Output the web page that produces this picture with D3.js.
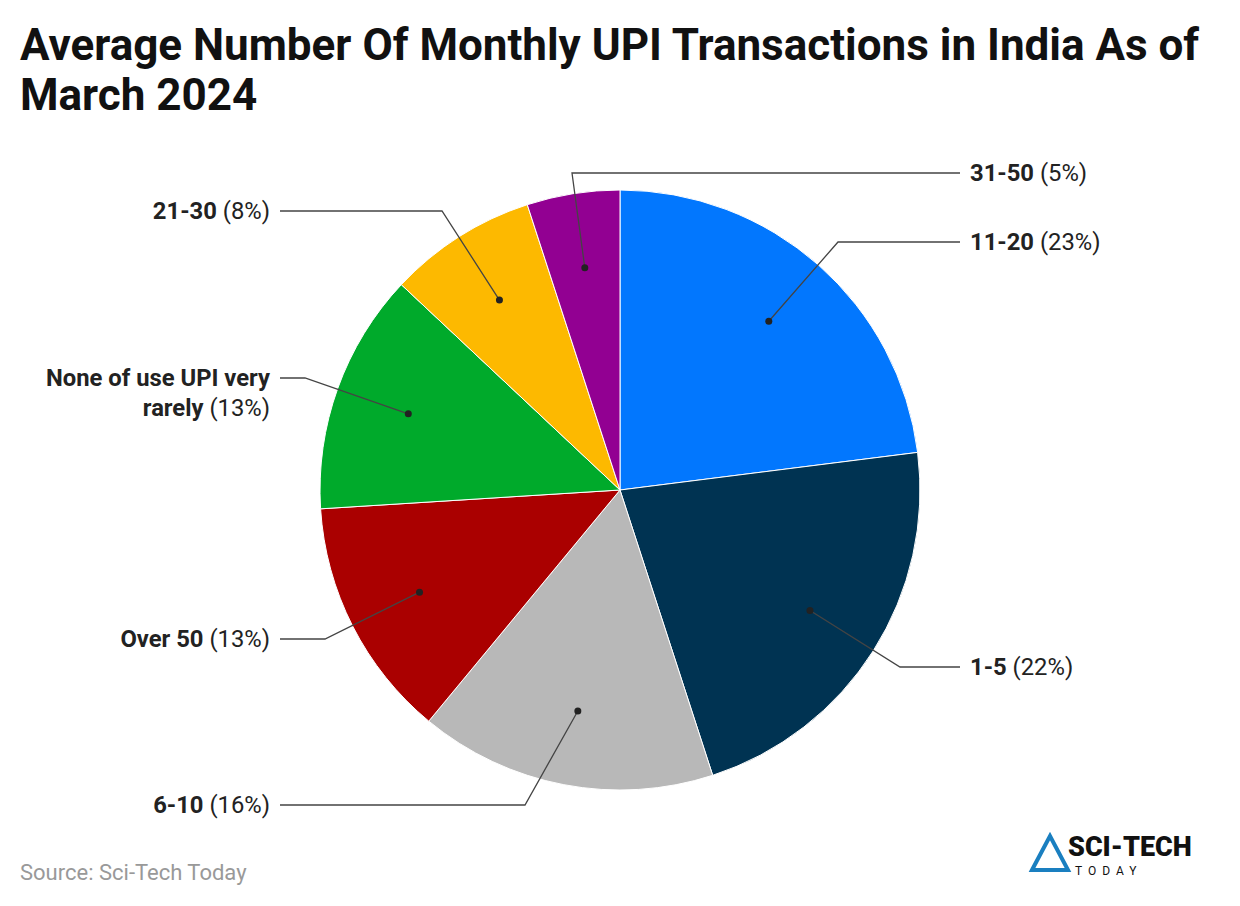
<!DOCTYPE html>
<html><head><meta charset="utf-8">
<script src="https://cdn.jsdelivr.net/npm/d3@7"></script>
<style>body{margin:0;background:#fff;font-family:Roboto,sans-serif}</style>
</head><body><svg id="c" width="1240" height="906"></svg>
<script>
const categories=["11-20","1-5","6-10","Over 50","None of use UPI very rarely","21-30","31-50"];
const values=[23,22,16,13,13,8,5];
const colors=["#0277fe","#003352","#b8b8b8","#aa0000","#00aa2b","#fdb900","#920092"];
// label layout: elbow x, elbow y, side
const labelX=[838,900,525,325,305,442,572];
const labelY=[242,667,805,639,378,211,173];
const labelSide=[1,1,-1,-1,-1,-1,1];
const svg=d3.select("#c");
svg.append("text").attr("x",20).attr("y",60).attr("font-size",44).attr("font-weight",700).attr("fill","#111").text("Average Number Of Monthly UPI Transactions in India As of");
svg.append("text").attr("x",20).attr("y",110).attr("font-size",44).attr("font-weight",700).attr("fill","#111").text("March 2024");
const cx=620,cy=490,R=300;
const pie=d3.pie().sort(null).value(d=>d)(values);
const arc=d3.arc().innerRadius(0).outerRadius(R);
const g=svg.append("g").attr("transform",`translate(${cx},${cy})`);
g.selectAll("path").data(pie).join("path").attr("d",arc).attr("fill",(d,i)=>colors[i]).attr("stroke","#fff").attr("stroke-width",1);
const inner=d3.arc().innerRadius(R*0.75).outerRadius(R*0.75);
const FS=23.8;
pie.forEach((d,i)=>{
  const [px,py]=inner.centroid(d);
  const x=cx+px,y=cy+py;
  const ex=labelX[i], ey=labelY[i], side=labelSide[i];
  const endX=side>0?960:280;
  svg.append("polyline").attr("points",`${x},${y} ${ex},${ey} ${endX},${ey}`).attr("fill","none").attr("stroke","#444").attr("stroke-width",1.3);
  svg.append("circle").attr("cx",x).attr("cy",y).attr("r",3.5).attr("fill","#222");
  const tx=side>0?970:270, anchor=side>0?"start":"end";
  const pct=` (${values[i]}%)`;
  if(i==4){
    const t=svg.append("text").attr("x",tx).attr("y",ey+8).attr("text-anchor",anchor).attr("font-size",FS).attr("fill","#222");
    t.append("tspan").attr("font-weight",700).text("None of use UPI very");
    const t2=svg.append("text").attr("x",tx).attr("y",ey+38).attr("text-anchor",anchor).attr("font-size",FS).attr("fill","#222");
    t2.append("tspan").attr("font-weight",700).text("rarely");t2.append("tspan").text(pct);
  } else {
    const t=svg.append("text").attr("x",tx).attr("y",ey+8).attr("text-anchor",anchor).attr("font-size",FS).attr("fill","#222");
    t.append("tspan").attr("font-weight",700).text(categories[i]);t.append("tspan").text(pct);
  }
});
svg.append("text").attr("x",20).attr("y",880).attr("font-size",22).attr("fill","#999").text("Source: Sci-Tech Today");
const lg=svg.append("g");
lg.append("path").attr("d","M1032,870 L1050,836 L1068,870 Z").attr("fill","none").attr("stroke","#1a7fc0").attr("stroke-width",4);
lg.append("text").attr("x",1068).attr("y",856).attr("font-size",27).attr("font-weight",900).attr("fill","#111").text("SCI-TECH");
lg.append("text").attr("x",1075).attr("y",875).attr("font-size",12).attr("letter-spacing",6).attr("fill","#111").text("TODAY");
</script></body></html>
